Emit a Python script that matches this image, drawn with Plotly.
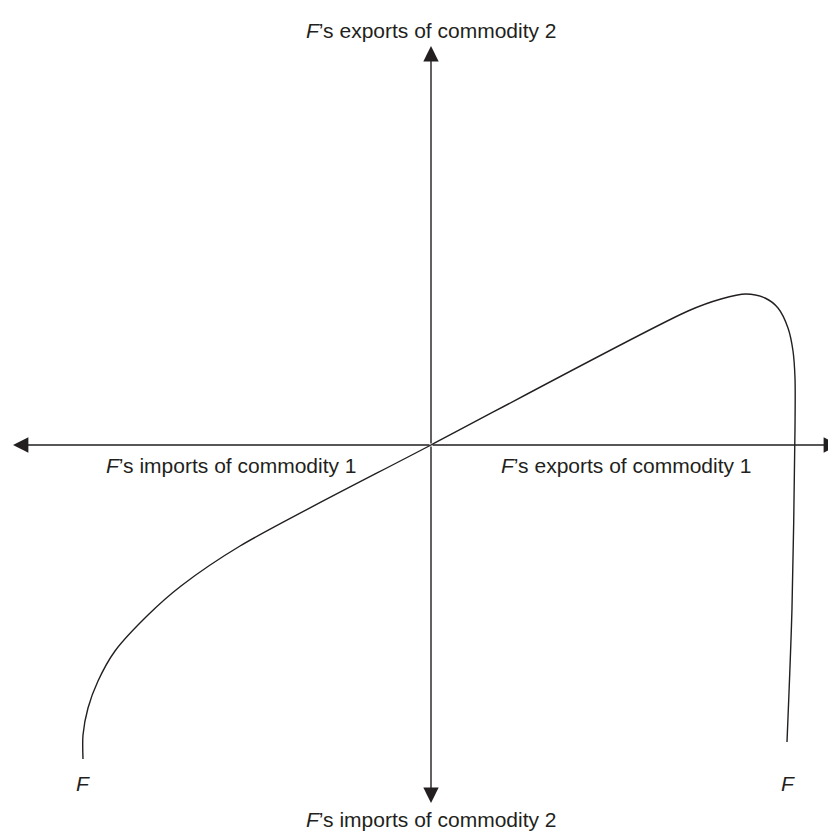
import plotly.graph_objects as go

# Offer curve of country F (coordinates relative to the origin)
curve_x = [-348, -348, -343, -333, -316, -283, -250, -191, 0, 257, 290, 315, 334, 347, 357, 362, 364, 364, 361, 356]
curve_y = [-314, -290, -263, -236, -206, -170, -141, -101, 0, 134, 146, 151, 147, 137, 117, 94, 67, 17, -163, -297]

axis_label_top = "<i>F</i>\u2019s exports of commodity 2"
axis_label_bottom = "<i>F</i>\u2019s imports of commodity 2"
axis_label_left = "<i>F</i>\u2019s imports of commodity 1"
axis_label_right = "<i>F</i>\u2019s exports of commodity 1"
curve_label = "<i>F</i>"

FONT = "Liberation Sans, Arial, Helvetica, sans-serif"
INK = "#231f20"

fig = go.Figure()
fig.add_trace(go.Scatter(
    x=curve_x, y=curve_y, mode="lines",
    line=dict(color=INK, width=1.4, shape="spline", smoothing=0.8),
    hoverinfo="skip", showlegend=False,
))

# axes with arrows
arrow_common = dict(xref="x", yref="y", axref="x", ayref="y", text="",
                    showarrow=True, arrowhead=2, arrowsize=2.2, arrowwidth=1.4,
                    arrowcolor=INK)
for tip in [(-418, 0), (408, 0), (0, 399), (0, -358)]:
    fig.add_annotation(x=tip[0], y=tip[1], ax=0, ay=0, **arrow_common)

labels = [
    (0, 415, axis_label_top),
    (0, -374, axis_label_bottom),
    (-200, -20, axis_label_left),
    (195, -20, axis_label_right),
    (-348, -338, curve_label),
    (357, -338, curve_label),
]
for lx, ly, t in labels:
    fig.add_annotation(x=lx, y=ly, text=t, showarrow=False, xref="x", yref="y",
                       borderpad=0,
                       font=dict(family=FONT, size=21, color=INK))

fig.update_layout(
    width=836, height=834,
    margin=dict(l=0, r=0, t=0, b=0),
    paper_bgcolor="white", plot_bgcolor="white",
    xaxis=dict(range=[-423, 413], visible=False, fixedrange=True),
    yaxis=dict(range=[-397, 437], visible=False, fixedrange=True),
)

fig.write_html("out.html")
